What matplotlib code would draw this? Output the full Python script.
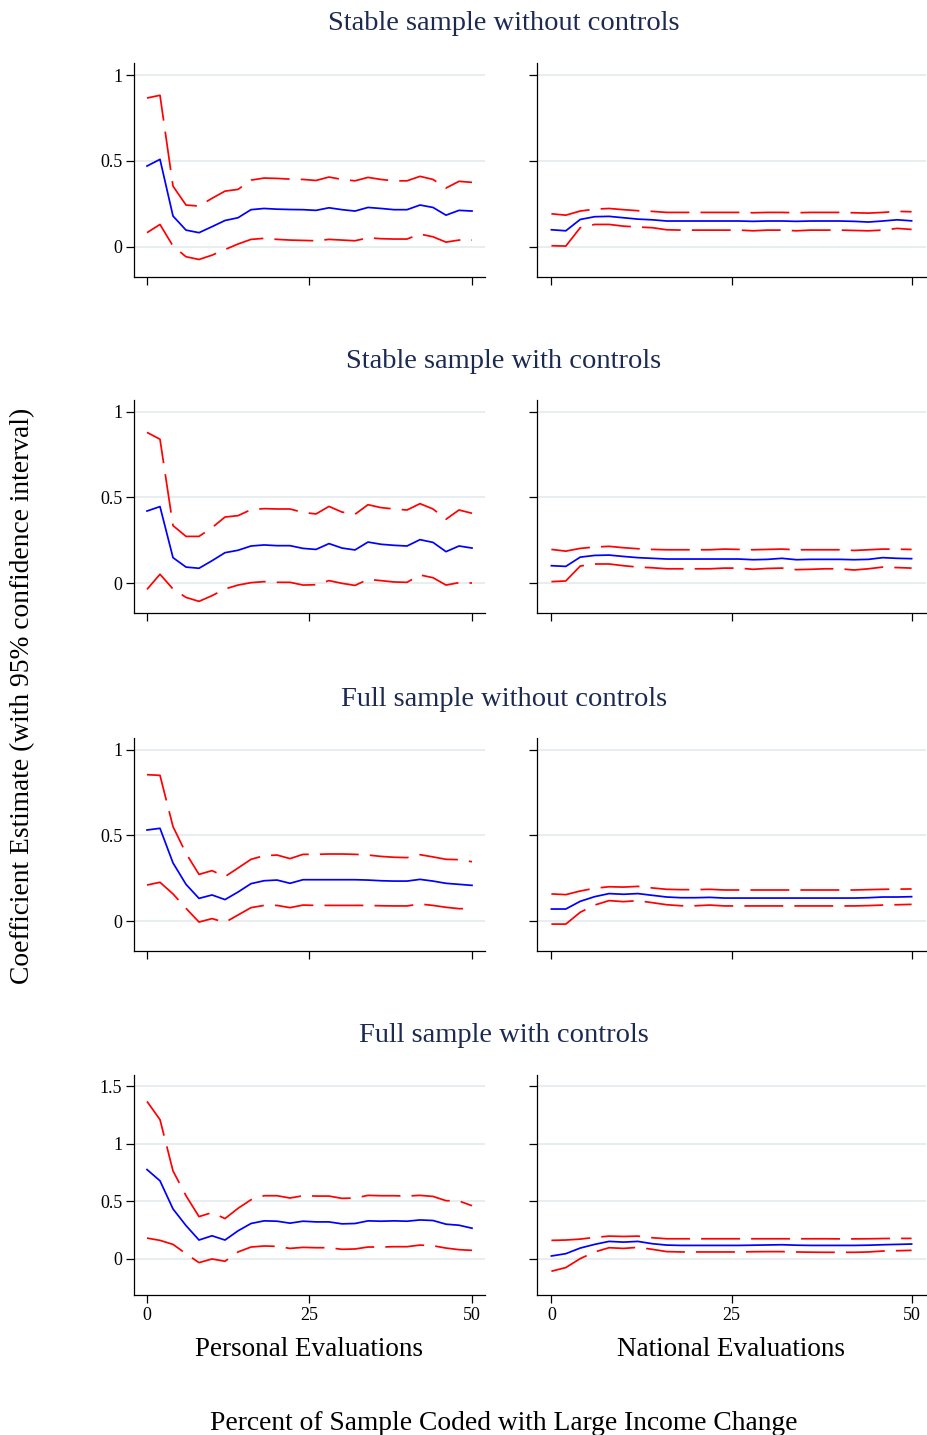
import matplotlib
matplotlib.use("Agg")
import matplotlib.pyplot as plt
import numpy as np

plt.rcParams['font.family'] = ['Liberation Serif', 'DejaVu Serif']
plt.rcParams['lines.scale_dashes'] = False

x = list(range(0, 51, 2))

titles = ["Stable sample without controls", "Stable sample with controls",
          "Full sample without controls", "Full sample with controls"]
col_labels = ["Personal Evaluations", "National Evaluations"]

# Row 1: Stable sample without controls
r1_pers_est = [0.470, 0.509, 0.179, 0.097, 0.082, 0.117, 0.153, 0.169, 0.216, 0.223, 0.219, 0.217, 0.216,
               0.212, 0.227, 0.216, 0.208, 0.229, 0.223, 0.216, 0.216, 0.243, 0.229, 0.184, 0.212, 0.208]
r1_pers_hi = [0.866, 0.882, 0.353, 0.243, 0.237, 0.282, 0.324, 0.334, 0.388, 0.400, 0.398, 0.394, 0.392,
              0.386, 0.406, 0.392, 0.384, 0.404, 0.392, 0.384, 0.384, 0.410, 0.392, 0.342, 0.381, 0.375]
r1_pers_lo = [0.082, 0.130, 0.004, -0.058, -0.074, -0.049, -0.016, 0.016, 0.043, 0.049, 0.043, 0.039, 0.037,
              0.035, 0.043, 0.039, 0.035, 0.052, 0.047, 0.045, 0.045, 0.074, 0.058, 0.027, 0.039, 0.039]
r1_nat_est = [0.099, 0.093, 0.159, 0.175, 0.177, 0.169, 0.161, 0.157, 0.150, 0.150, 0.150, 0.150, 0.150,
              0.150, 0.148, 0.150, 0.150, 0.148, 0.150, 0.150, 0.150, 0.148, 0.144, 0.150, 0.157, 0.151]
r1_nat_hi = [0.192, 0.184, 0.208, 0.219, 0.223, 0.216, 0.210, 0.206, 0.200, 0.200, 0.200, 0.200, 0.200,
             0.200, 0.198, 0.200, 0.200, 0.198, 0.200, 0.200, 0.200, 0.198, 0.196, 0.200, 0.206, 0.204]
r1_nat_lo = [0.006, 0.004, 0.111, 0.130, 0.130, 0.120, 0.115, 0.111, 0.099, 0.097, 0.097, 0.097, 0.097,
             0.097, 0.093, 0.097, 0.097, 0.093, 0.097, 0.097, 0.097, 0.095, 0.093, 0.097, 0.107, 0.101]

# Row 2: Stable sample with controls
r2_pers_est = [0.420, 0.446, 0.148, 0.093, 0.086, 0.130, 0.177, 0.191, 0.216, 0.222, 0.218, 0.218, 0.202,
               0.196, 0.230, 0.204, 0.193, 0.239, 0.226, 0.220, 0.216, 0.253, 0.237, 0.183, 0.216, 0.204]
r2_pers_hi = [0.879, 0.839, 0.335, 0.272, 0.272, 0.323, 0.385, 0.393, 0.428, 0.434, 0.432, 0.432, 0.412,
              0.403, 0.447, 0.414, 0.401, 0.457, 0.440, 0.432, 0.426, 0.463, 0.432, 0.372, 0.426, 0.407]
r2_pers_lo = [-0.037, 0.051, -0.035, -0.084, -0.107, -0.074, -0.035, -0.012, 0.002, 0.008, 0.004, 0.004, -0.012,
              -0.010, 0.014, -0.002, -0.014, 0.021, 0.014, 0.006, 0.004, 0.047, 0.031, -0.012, 0.002, 0.000]
r2_nat_est = [0.101, 0.097, 0.151, 0.161, 0.163, 0.155, 0.148, 0.144, 0.140, 0.140, 0.140, 0.140, 0.140,
              0.140, 0.136, 0.138, 0.144, 0.136, 0.138, 0.138, 0.138, 0.136, 0.138, 0.148, 0.144, 0.142]
r2_nat_hi = [0.196, 0.186, 0.202, 0.210, 0.214, 0.206, 0.200, 0.196, 0.194, 0.194, 0.194, 0.194, 0.198,
             0.196, 0.194, 0.196, 0.198, 0.194, 0.194, 0.194, 0.194, 0.190, 0.194, 0.198, 0.197, 0.196]
r2_nat_lo = [0.008, 0.012, 0.099, 0.111, 0.111, 0.101, 0.093, 0.089, 0.083, 0.083, 0.083, 0.083, 0.087,
             0.087, 0.080, 0.085, 0.087, 0.078, 0.080, 0.083, 0.083, 0.076, 0.083, 0.093, 0.090, 0.087]

# Row 3: Full sample without controls
r3_pers_est = [0.531, 0.541, 0.339, 0.214, 0.132, 0.152, 0.125, 0.169, 0.218, 0.235, 0.239, 0.220, 0.241,
               0.241, 0.241, 0.241, 0.241, 0.239, 0.235, 0.233, 0.233, 0.243, 0.233, 0.220, 0.214, 0.208]
r3_pers_hi = [0.854, 0.850, 0.551, 0.395, 0.272, 0.294, 0.259, 0.309, 0.360, 0.381, 0.385, 0.364, 0.389,
              0.389, 0.391, 0.391, 0.389, 0.385, 0.377, 0.372, 0.370, 0.387, 0.374, 0.360, 0.358, 0.346]
r3_pers_lo = [0.210, 0.226, 0.158, 0.074, -0.006, 0.014, -0.008, 0.035, 0.078, 0.091, 0.091, 0.078, 0.093,
              0.091, 0.091, 0.091, 0.091, 0.091, 0.089, 0.088, 0.088, 0.099, 0.091, 0.080, 0.072, 0.072]
r3_nat_est = [0.070, 0.070, 0.115, 0.142, 0.160, 0.156, 0.160, 0.150, 0.140, 0.136, 0.136, 0.138, 0.134,
              0.134, 0.134, 0.134, 0.134, 0.134, 0.134, 0.134, 0.134, 0.134, 0.136, 0.140, 0.140, 0.142]
r3_nat_hi = [0.158, 0.154, 0.175, 0.191, 0.200, 0.198, 0.202, 0.193, 0.185, 0.183, 0.183, 0.185, 0.181,
             0.181, 0.181, 0.181, 0.181, 0.181, 0.181, 0.181, 0.181, 0.181, 0.183, 0.185, 0.186, 0.187]
r3_nat_lo = [-0.018, -0.018, 0.051, 0.093, 0.119, 0.113, 0.119, 0.107, 0.095, 0.089, 0.089, 0.093, 0.088,
             0.088, 0.088, 0.088, 0.088, 0.088, 0.088, 0.088, 0.088, 0.088, 0.090, 0.093, 0.095, 0.097]

# Row 4: Full sample with controls
r4_pers_est = [0.776, 0.678, 0.433, 0.288, 0.162, 0.199, 0.162, 0.242, 0.306, 0.329, 0.326, 0.309, 0.326,
               0.320, 0.320, 0.303, 0.306, 0.329, 0.326, 0.329, 0.326, 0.337, 0.332, 0.300, 0.291, 0.265]
r4_pers_hi = [1.370, 1.211, 0.764, 0.548, 0.366, 0.401, 0.349, 0.438, 0.513, 0.548, 0.548, 0.528, 0.548,
              0.545, 0.545, 0.525, 0.528, 0.551, 0.548, 0.548, 0.545, 0.551, 0.542, 0.505, 0.502, 0.461]
r4_pers_lo = [0.179, 0.159, 0.124, 0.043, -0.035, -0.003, -0.023, 0.058, 0.101, 0.110, 0.107, 0.089, 0.098,
              0.095, 0.095, 0.081, 0.084, 0.101, 0.101, 0.104, 0.104, 0.118, 0.112, 0.092, 0.078, 0.072]
r4_nat_est = [0.023, 0.043, 0.092, 0.124, 0.150, 0.144, 0.150, 0.130, 0.118, 0.115, 0.115, 0.115, 0.115,
              0.115, 0.117, 0.119, 0.121, 0.117, 0.115, 0.115, 0.115, 0.115, 0.117, 0.121, 0.124, 0.127]
r4_nat_hi = [0.159, 0.162, 0.170, 0.185, 0.196, 0.193, 0.196, 0.182, 0.173, 0.173, 0.173, 0.173, 0.173,
             0.173, 0.173, 0.173, 0.173, 0.173, 0.173, 0.173, 0.172, 0.172, 0.173, 0.175, 0.176, 0.176]
r4_nat_lo = [-0.110, -0.078, 0.000, 0.058, 0.095, 0.089, 0.098, 0.081, 0.061, 0.058, 0.058, 0.058, 0.058,
             0.058, 0.060, 0.061, 0.061, 0.058, 0.056, 0.055, 0.055, 0.055, 0.058, 0.066, 0.069, 0.072]

rows = [
    ((r1_pers_est, r1_pers_hi, r1_pers_lo), (r1_nat_est, r1_nat_hi, r1_nat_lo)),
    ((r2_pers_est, r2_pers_hi, r2_pers_lo), (r2_nat_est, r2_nat_hi, r2_nat_lo)),
    ((r3_pers_est, r3_pers_hi, r3_pers_lo), (r3_nat_est, r3_nat_hi, r3_nat_lo)),
    ((r4_pers_est, r4_pers_hi, r4_pers_lo), (r4_nat_est, r4_nat_hi, r4_nat_lo)),
]
yticks_rows = [[0, 0.5, 1], [0, 0.5, 1], [0, 0.5, 1], [0, 0.5, 1, 1.5]]
ylims = [(-0.176, 1.07), (-0.175, 1.068), (-0.175, 1.068), (-0.317, 1.60)]

W, H = 927, 1435
fig = plt.figure(figsize=(W / 100, H / 100), dpi=100)

col_px = [(134, 485), (537, 926)]
row_px = [(63, 277), (400, 613), (738, 951), (1075, 1295)]
title_y = [24, 361, 699, 1036]
title_color = '#1c2a52'

for r, (ry0, ry1) in enumerate(row_px):
    fig.text(504 / W, 1 - title_y[r] / H, titles[r], ha='center', va='center',
             fontsize=20.5, color=title_color)
    for c, (cx0, cx1) in enumerate(col_px):
        ax = fig.add_axes([cx0 / W, 1 - ry1 / H, (cx1 - cx0) / W, (ry1 - ry0) / H])
        est, hi, lo = rows[r][c]
        ax.set_xlim(-2, 52)
        ax.set_ylim(*ylims[r])
        ax.set_yticks(yticks_rows[r])
        ax.set_xticks([0, 25, 50])
        ax.grid(axis='y', color='#e6ecef', linewidth=1.3)
        ax.set_axisbelow(True)
        for s in ['top', 'right']:
            ax.spines[s].set_visible(False)
        for s in ['left', 'bottom']:
            ax.spines[s].set_linewidth(0.9)
        ax.tick_params(axis='both', direction='out', length=5.5, width=0.9,
                       labelsize=13, pad=3)
        if c == 0:
            ax.set_yticklabels([('%g' % v) for v in yticks_rows[r]])
        else:
            ax.set_yticklabels([])
        if r == 3:
            ax.set_xticklabels(['0', '25', '50'])
        else:
            ax.set_xticklabels([])
        ax.plot(x, hi, color='#ff0000', linewidth=1.25, dashes=(28, 8))
        ax.plot(x, lo, color='#ff0000', linewidth=1.25, dashes=(28, 8))
        ax.plot(x, est, color='#0000ff', linewidth=1.25)

fig.text(309 / W, 1 - 1349 / H, col_labels[0], ha='center', va='center', fontsize=19.5)
fig.text(731 / W, 1 - 1349 / H, col_labels[1], ha='center', va='center', fontsize=19.5)
fig.text(504 / W, 1 - 1423 / H, "Percent of Sample Coded with Large Income Change",
         ha='center', va='center', fontsize=19.8)
fig.text(23 / W, 1 - 696 / H, "Coefficient Estimate (with 95% confidence interval)",
         ha='center', va='center', rotation=90, fontsize=19.8)

fig.savefig("out.png", dpi=100, facecolor='white')
